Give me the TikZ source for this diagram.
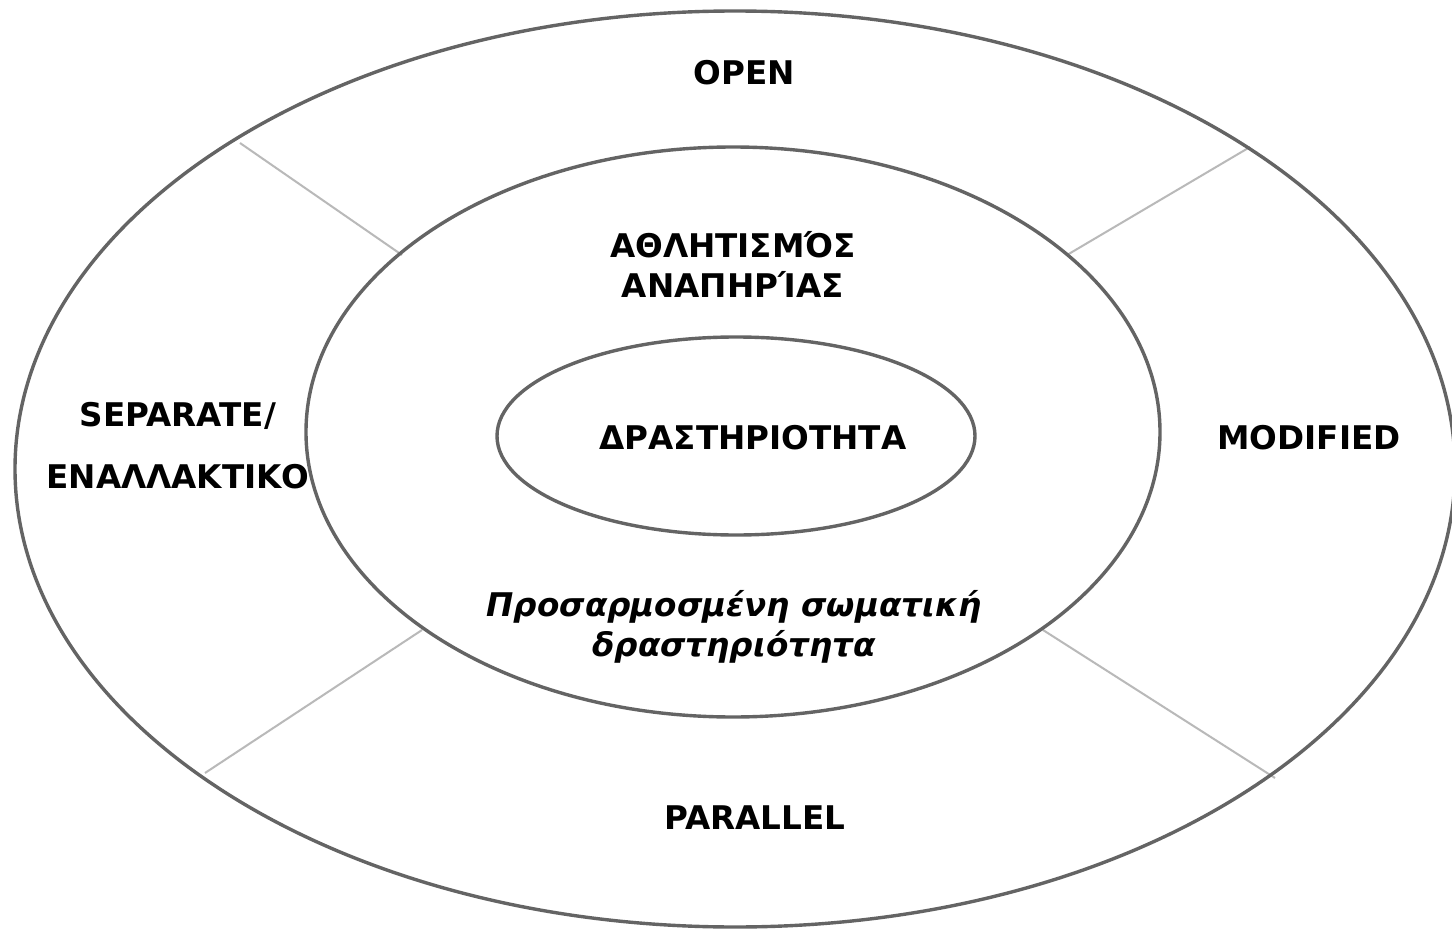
\documentclass[tikz,border=0pt]{standalone}
\usepackage{fontspec}
\setmainfont{DejaVu Sans}
\definecolor{ringgray}{RGB}{100,100,100}
\definecolor{divgray}{RGB}{185,185,185}
\tikzset{
  ring/.style={draw=ringgray, line width=1.7pt},
  divider/.style={draw=divgray, line width=1pt},
  lbl/.style={font=\fontsize{16.3}{20}\selectfont\bfseries, align=center, inner sep=0pt},
  ilbl/.style={font=\fontsize{16.3}{20}\selectfont\bfseries\itshape, align=center, inner sep=0pt}
}
\begin{document}
\begin{tikzpicture}[x=0.5pt,y=-0.5pt]
\useasboundingbox (0,0) rectangle (1452,931);
\fill[white] (0,0) rectangle (1452,931);
\begin{scope}
\clip (0,0) rectangle (1452,931);
% divider end points
\coordinate (ulo) at (240,143);
\coordinate (uli) at (402,255);
\coordinate (uro) at (1250,147);
\coordinate (uri) at (1067,255);
\coordinate (llo) at (205,773);
\coordinate (lli) at (422,630);
\coordinate (lro) at (1275,778);
\coordinate (lri) at (1043,630);
\draw[divider] (ulo) -- (uli);
\draw[divider] (uro) -- (uri);
\draw[divider] (llo) -- (lli);
\draw[divider] (lro) -- (lri);
\draw[ring] (735,469) ellipse [x radius=720, y radius=458];
\draw[ring] (733,432) ellipse [x radius=427, y radius=285];
\draw[ring] (736,436) ellipse [x radius=239, y radius=99];
\end{scope}
\node[lbl] (open) at (744,73) {OPEN};
\node[lbl] (sport) at (733,264) {ΑΘΛΗΤΙΣΜΌΣ\\ΑΝΑΠΗΡΊΑΣ};
\node[lbl] (act) at (753,438) {ΔΡΑΣΤΗΡΙΟΤΗΤΑ};
\node[lbl, font=\fontsize{16.3}{31}\selectfont\bfseries] (sep) at (178,446) {SEPARATE/\\ΕΝΑΛΛΑΚΤΙΚΟ};
\node[lbl] (mod) at (1309,438) {MODIFIED};
\node[ilbl] (apa) at (734,627) {Προσαρμοσμένη σωματική\\δραστηριότητα};
\node[lbl] (par) at (755,818) {PARALLEL};
\end{tikzpicture}
\end{document}
